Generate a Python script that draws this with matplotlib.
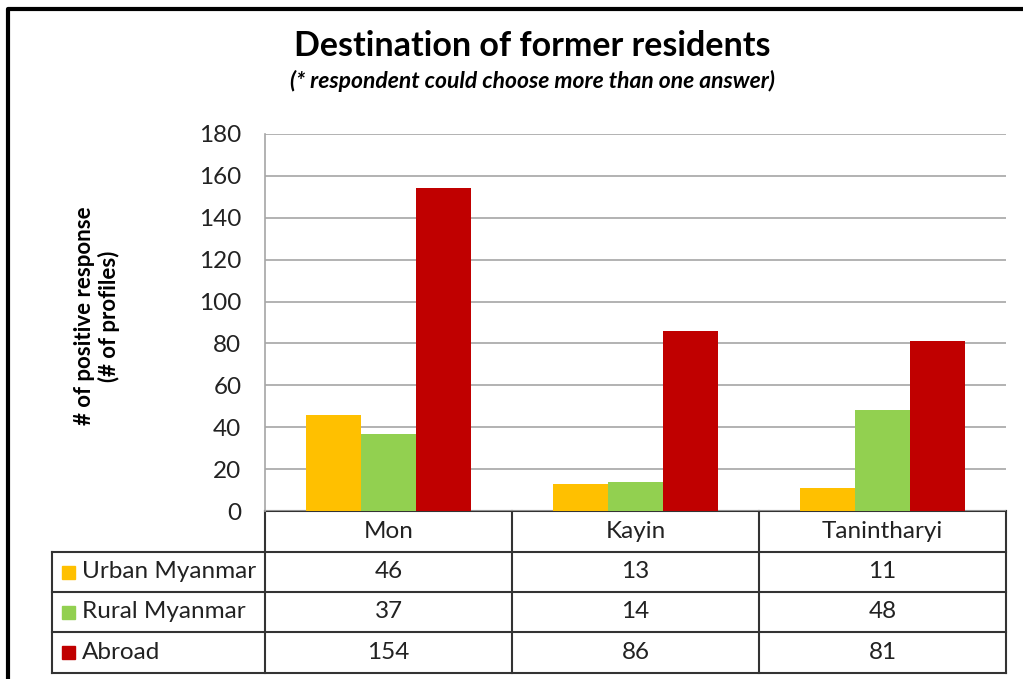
import numpy as np
import matplotlib.pyplot as plt

# data
regions = ['Mon', 'Kayin', 'Tanintharyi']
series = ['Urban Myanmar', 'Rural Myanmar', 'Abroad']
urban = [46, 13, 11]
rural = [37, 14, 48]
abroad = [154, 86, 81]
colors = ['#FFC000', '#92D050', '#C00000']

plt.rcParams['font.family'] = ['Lato', 'DejaVu Sans']

W, H = 1023, 679
fig = plt.figure(figsize=(W / 100, H / 100), dpi=100)

# overlay in pixel coords for frame + table
ov = fig.add_axes([0, 0, 1, 1])
ov.set_xlim(0, W)
ov.set_ylim(H, 0)
ov.axis('off')

# outer frame (left + top)
ov.plot([8, 8, W + 5], [H + 5, 9, 9], color='black', lw=3, solid_capstyle='butt')

# chart area
x0, x1, ytop, ybot = 265, 1006, 134, 511
ax = fig.add_axes([x0 / W, 1 - ybot / H, (x1 - x0) / W, (ybot - ytop) / H])
ax.set_zorder(2)
ax.patch.set_alpha(0)

x = np.arange(len(regions))
bw = 0.223
for i, vals in enumerate([urban, rural, abroad]):
    ax.bar(x + (i - 1) * bw, vals, width=bw, color=colors[i], zorder=3)

ax.set_xlim(-0.5, len(regions) - 0.5)
ax.set_ylim(0, 180)
ax.set_yticks(range(0, 181, 20))
ax.tick_params(axis='y', length=0, labelsize=17.5, pad=17, colors='#222222')
ax.set_xticks([])
ax.grid(axis='y', color='#A6A6A6', lw=1.2, zorder=0)
for s in ['top', 'right', 'bottom']:
    ax.spines[s].set_visible(False)
ax.spines['left'].set_color('#A6A6A6')
ax.spines['left'].set_linewidth(1.2)

# title / subtitle
fig.text(532 / W, 1 - 46 / H, 'Destination of former residents', ha='center', va='center',
         fontsize=24.5, fontweight='bold')
fig.text(532 / W, 1 - 81 / H, '(* respondent could choose more than one answer)', ha='center',
         va='center', fontsize=16.5, fontweight='bold', style='italic')
fig.text(97 / W, 1 - 316 / H, '# of positive response\n(# of profiles)', ha='center', va='center',
         rotation=90, fontsize=16, fontweight='bold', linespacing=1.15)

# data table
cols = [x0, 512, 759, x1]
rows = [511, 552, 592, 632, 673]
tleft = 52
lc = '#333333'
lw = 1.5
ov.plot([x0, x1], [rows[0], rows[0]], color=lc, lw=lw)
for yy in rows[1:]:
    ov.plot([tleft, x1], [yy, yy], color=lc, lw=lw)
for xx in cols:
    ov.plot([xx, xx], [rows[0], rows[-1]], color=lc, lw=lw)
ov.plot([tleft, tleft], [rows[1], rows[-1]], color=lc, lw=lw)

fs = 17.5
for j, name in enumerate(regions):
    ov.text((cols[j] + cols[j + 1]) / 2, (rows[0] + rows[1]) / 2, name, ha='center', va='center',
            fontsize=fs, color='#222222')
for i, (name, vals) in enumerate(zip(series, [urban, rural, abroad])):
    yc = (rows[i + 1] + rows[i + 2]) / 2
    ov.add_patch(plt.Rectangle((62, yc - 6.5), 13, 13, color=colors[i]))
    ov.text(82, yc, name, ha='left', va='center', fontsize=fs, color='#222222')
    for j, v in enumerate(vals):
        ov.text((cols[j] + cols[j + 1]) / 2, yc, str(v), ha='center', va='center',
                fontsize=fs, color='#222222')

fig.savefig('out.png', dpi=100)
